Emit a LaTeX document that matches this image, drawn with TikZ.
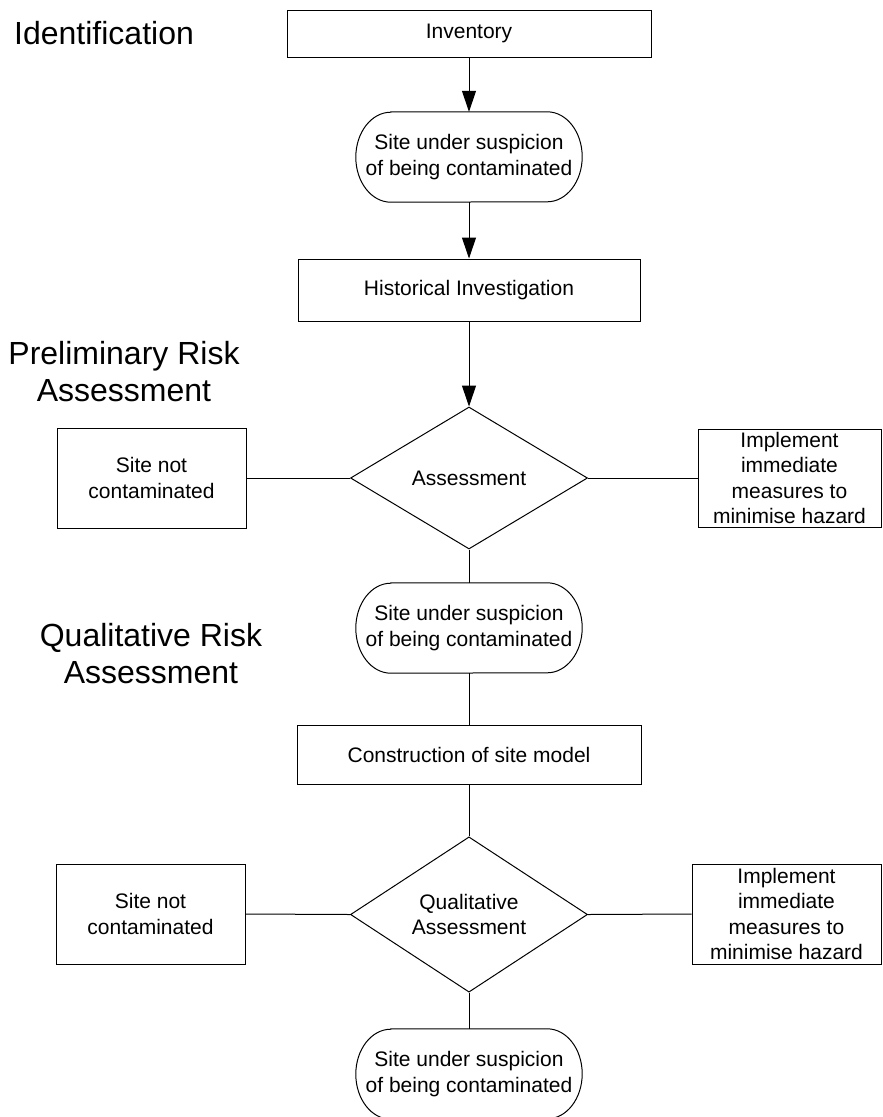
\documentclass[tikz,border=0pt]{standalone}
\usepackage{fontspec}
\setmainfont{Liberation Sans}
\usetikzlibrary{shapes.geometric,arrows.meta}
\begin{document}
\begin{tikzpicture}[x=1pt,y=-1pt,
  every node/.style={font=\fontsize{21}{25.5}\selectfont, align=center, inner sep=0pt},
  heading/.style={font=\fontsize{32}{37}\selectfont},
  flowbox/.style={draw, line width=1pt, rectangle},
  stadium/.style={rectangle, minimum width=226pt, minimum height=90pt},
  decision/.style={draw, line width=1pt, diamond, minimum width=237pt, minimum height=142pt},
  link/.style={line width=1pt},
  flow/.style={line width=1pt, -{Triangle[length=21pt,width=14pt]}}
]
\useasboundingbox (0,0) rectangle (883,1117);

% stage headings
\node[heading, anchor=west] (hid) at (14,33) {Identification};
\node[heading] (hpre) at (124,371.5) {Preliminary Risk\\Assessment};
\node[heading] (hqual) at (151,654) {Qualitative Risk\\Assessment};

% identification
\node[flowbox, minimum width=364pt, minimum height=47pt] (inv) at (469,33.5) {Inventory};
\node[stadium] (s1) at (469,157) {Site under suspicion\\of being contaminated};
\node[flowbox, minimum width=342pt, minimum height=62pt] (hist) at (469,290) {Historical Investigation};

% preliminary risk assessment
\node[decision] (d1) at (469,478) {Assessment};
\node[flowbox, minimum width=189pt, minimum height=100pt] (nc1) at (151.5,478) {Site not\\contaminated};
\node[flowbox, minimum width=183pt, minimum height=98pt] (im1) at (789.5,478) {Implement\\immediate\\measures to\\minimise hazard};
\node[stadium] (s2) at (469,628) {Site under suspicion\\of being contaminated};

% qualitative risk assessment
\node[flowbox, minimum width=344pt, minimum height=59pt] (con) at (469,754.5) {Construction of site model};
\node[decision, minimum height=143pt] (d2) at (469,914.5) {Qualitative\\Assessment};
\node[flowbox, minimum width=189pt, minimum height=100pt] (nc2) at (150.5,914) {Site not\\contaminated};
\node[flowbox, minimum width=189pt, minimum height=100pt] (im2) at (786.5,914) {Implement\\immediate\\measures to\\minimise hazard};
\node[stadium] (s3) at (469,1074) {Site under suspicion\\of being contaminated};

% stadium outlines with elliptical ends
\foreach \n in {s1,s2,s3}
  \draw[link] ([xshift=35pt]\n.north west) -- ([xshift=-35pt]\n.north east)
    arc[start angle=90, end angle=-90, x radius=35pt, y radius=45pt]
    -- ([xshift=35pt]\n.south west)
    arc[start angle=270, end angle=90, x radius=35pt, y radius=45pt] -- cycle;

% connectors
\draw[flow] (inv.south) -- (s1.north);
\draw[flow] (s1.south) -- (hist.north);
\draw[flow] (hist.south) -- (d1.north);
\draw[link] (nc1.east) -- (d1.west);
\draw[link] (d1.east) -- (im1.west);
\draw[link] (d1.south) -- (s2.north);
\draw[link] (s2.south) -- (con.north);
\draw[link] (con.south) -- (d2.north);
\draw[link] (nc2.east) -- (d2.west);
\draw[link] (d2.east) -- (im2.west);
\draw[link] (d2.south) -- (s3.north);
\end{tikzpicture}
\end{document}
